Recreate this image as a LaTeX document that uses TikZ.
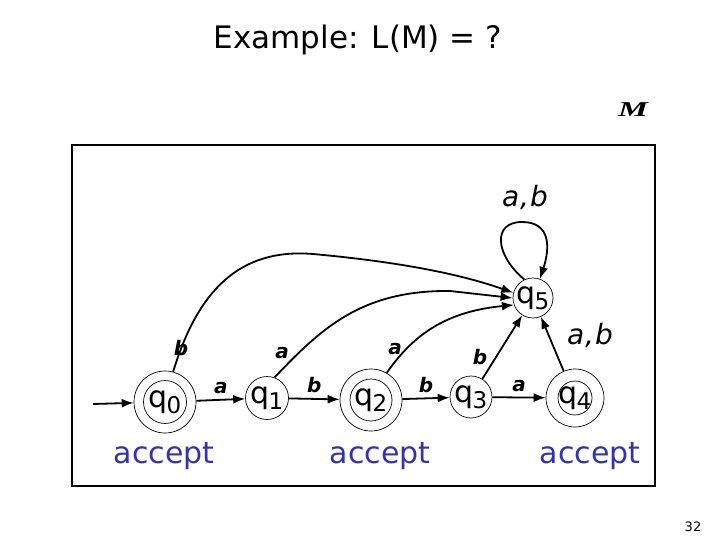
\documentclass[tikz,border=0pt]{standalone}
\usepackage{fontspec}
\setmainfont{DejaVu Sans}
\newfontfamily\serifM{Liberation Serif}
\usetikzlibrary{arrows.meta}
\definecolor{acc}{RGB}{51,51,170}
\tikzset{
  st/.style={circle,draw,line width=0.7pt,inner sep=0pt},
  inner/.style={line width=0.7pt},
  edge/.style={line width=1.8pt,-{Latex[length=12pt,width=9pt]}},
  elab/.style={font=\fontsize{20}{20}\selectfont\bfseries\itshape,inner sep=1pt},
  ablab/.style={font=\fontsize{28}{28}\selectfont\itshape},
  acclab/.style={font=\fontsize{30}{30}\selectfont,text=acc},
}
\newcommand{\qq}[1]{\fontsize{30}{30}\selectfont q\kern-1pt\raisebox{-0.35ex}{\fontsize{23}{23}\selectfont #1}}
\begin{document}
\begin{tikzpicture}[x=1pt,y=-1pt]
\useasboundingbox (0,0) rectangle (720,540);
\node[font=\fontsize{31}{31}\selectfont] (title) at (358,40) {Example: L(M) = ?};
\node[font=\fontsize{24}{24}\selectfont\serifM\bfseries\itshape,xscale=1.4,yscale=0.88] (M) at (633,110) {M};
\node[font=\fontsize{13}{13}\selectfont] (pg) at (693,527) {32};
\draw[line width=1.2pt] (72,145) rectangle (655,486);

\node[st,minimum size=62pt] (q0) at (165,402) {\qq{0}};
\draw[inner] (q0) circle (21.5pt);
\node[st,minimum size=43pt] (q1) at (267,398) {\qq{1}};
\node[st,minimum size=62pt] (q2) at (371,400) {\qq{2}};
\draw[inner] (q2) circle (21pt);
\node[st,minimum size=42pt] (q3) at (471,397) {\qq{3}};
\node[st,minimum size=58pt] (q4) at (575,398) {\qq{4}};
\draw[inner] (q4) circle (17pt);
\node[st,minimum size=40pt] (q5) at (533,298) {\qq{5}};

\coordinate (s) at (93,404);
\draw[edge] (s) -- (q0);
\draw[edge] (q0) -- (q1) node[elab,midway,above=4pt] {a};
\draw[edge] (q1) -- (q2) node[elab,midway,above=4pt] {b};
\draw[edge] (q2) -- (q3) node[elab,midway,above=4pt] {b};
\draw[edge] (q3) -- (q4) node[elab,midway,above=4pt] {a};
\draw[edge] (q4) -- (q5);
\node[ablab] (lab45) at (590,335) {a\kern1pt,\kern1pt b};
\draw[edge] (q3) -- (q5);
\node[elab] (lb3) at (480,357) {b};
\draw[edge] (q5.115) .. controls (495,255) and (492,222) .. (522,222) .. controls (551,222) and (550,248) .. (q5.70);
\node[ablab] (lab55) at (525,197) {a\kern1pt,\kern1pt b};

\draw[edge] (q0.75) .. controls (198,290) and (240,248) .. (313,254) .. controls (400,262) and (460,274) .. (q5.165);
\node[elab] (lb0) at (181,348) {b};
\draw[edge] (q1.70) .. controls (320,330) and (360,290) .. (450,291) -- (q5.180);
\node[elab] (la1) at (282,353) {a};
\draw[edge] (q2.60) .. controls (410,340) and (440,312) .. (q5.200);
\node[elab] (la2) at (395,349) {a};

\node[acclab] (a0) at (164,456) {accept};
\node[acclab] (a2) at (380,456) {accept};
\node[acclab] (a4) at (590,456) {accept};
\end{tikzpicture}
\end{document}
